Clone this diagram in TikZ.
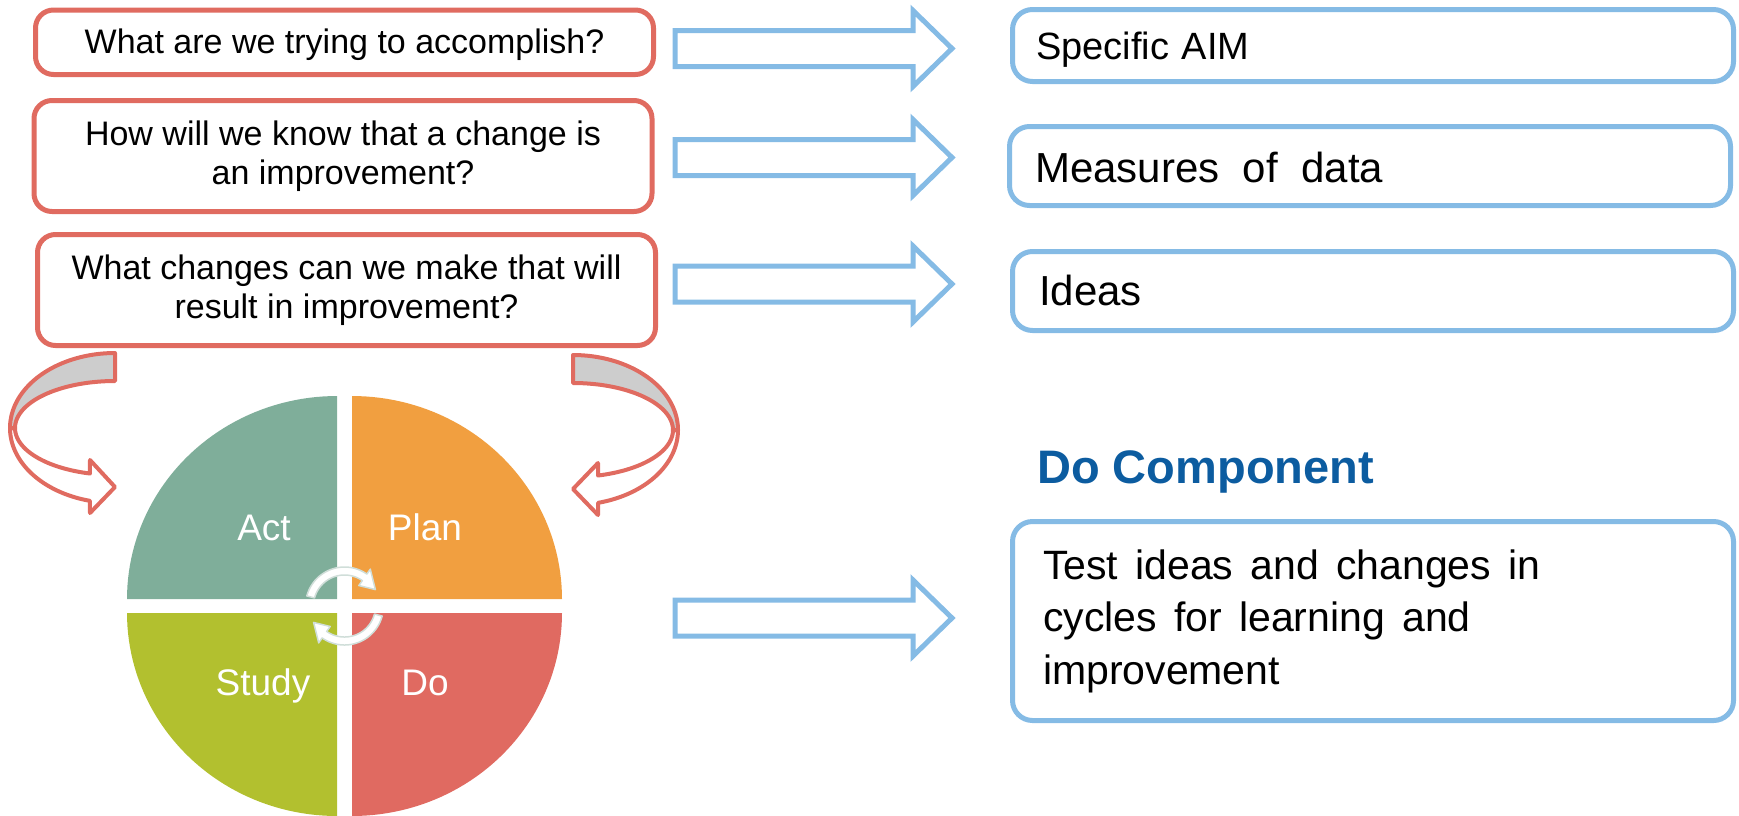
\documentclass[tikz,border=0pt]{standalone}
\usepackage{fontspec}
\setmainfont{Liberation Sans}
\definecolor{qred}{RGB}{224,107,96}
\definecolor{aimblue}{RGB}{133,187,229}
\definecolor{titleblue}{RGB}{12,92,160}
\definecolor{curlgray}{RGB}{205,205,205}
\definecolor{actc}{RGB}{127,174,154}
\definecolor{planc}{RGB}{241,159,64}
\definecolor{studyc}{RGB}{178,192,47}
\definecolor{doc}{RGB}{224,106,97}
\definecolor{spingray}{RGB}{208,222,217}
% block arrow pointing right, centred on the given height
\newcommand\wideArrow[1]{%
  \draw[wide arrow] (675,#1-18) -- (913,#1-18) -- (913,#1-38) -- (952,#1)
    -- (913,#1+38) -- (913,#1+18) -- (675,#1+18) -- cycle;}
\begin{document}
\begin{tikzpicture}[x=1pt, y=-1pt,
  qbox/.style={draw=qred, line width=5pt, rounded corners=18pt, fill=white,
    minimum width=618pt, inner sep=0pt, align=center,
    font=\fontsize{34}{39.5}\selectfont},
  abox/.style={draw=aimblue, line width=5pt, rounded corners=20pt, fill=white,
    minimum width=721pt, inner ysep=0pt, align=left},
  wide arrow/.style={draw=aimblue, line width=5pt, fill=white, line join=miter},
  curl/.style={draw=qred, line width=4pt, line join=round},
  spin/.style={draw=spingray, line width=1.5pt, fill=white, line join=round},
  pdca/.style={text=white, font=\fontsize{37}{40}\selectfont, anchor=base, inner sep=0pt},
  samples=48]
\useasboundingbox (0,0) rectangle (1739,815);

% curved arrows from the questions down to the cycle
\draw[curl, fill=white] plot[domain=180:103.8] ({115+105*cos(\x)},{428+75*sin(\x)})
  -- (90,513) -- (115,487) -- (90,460)
  -- plot[domain=104.5:180] ({115+100*cos(\x)},{428+47*sin(\x)}) -- cycle;
\draw[curl, fill=curlgray] plot[domain=270:180] ({115+105*cos(\x)},{428+75*sin(\x)})
  -- plot[domain=180:270] ({115+100*cos(\x)},{428+47*sin(\x)}) -- cycle;
\draw[curl, fill=white] plot[domain=0:76.2] ({573+105*cos(\x)},{430+75*sin(\x)})
  -- (598,515) -- (573,489) -- (598,463)
  -- plot[domain=75.5:0] ({573+100*cos(\x)},{430+47*sin(\x)}) -- cycle;
\draw[curl, fill=curlgray] plot[domain=270:360] ({573+105*cos(\x)},{430+75*sin(\x)})
  -- plot[domain=360:270] ({573+100*cos(\x)},{430+47*sin(\x)}) -- cycle;

% PDCA wheel
\fill[actc] (337,599) -- plot[domain=180:270] ({337+210*cos(\x)},{599+203*sin(\x)}) -- cycle;
\fill[planc] (352,599) -- plot[domain=270:360] ({352+210*cos(\x)},{599+203*sin(\x)}) -- cycle;
\fill[studyc] (337,613) -- plot[domain=90:180] ({337+210*cos(\x)},{613+203*sin(\x)}) -- cycle;
\fill[doc] (352,613) -- plot[domain=0:90] ({352+210*cos(\x)},{613+203*sin(\x)}) -- cycle;

% rotation arrows in the middle of the wheel
\draw[spin] plot[domain=195:305] ({344.5+39*cos(\x)},{606+39*sin(\x)})
  -- ({344.5+45*cos(305)},{606+45*sin(305)})
  -- ({344.5+35*cos(332)},{606+35*sin(332)})
  -- ({344.5+25*cos(305)},{606+25*sin(305)})
  -- plot[domain=305:195] ({344.5+31*cos(\x)},{606+31*sin(\x)}) -- cycle;
\draw[spin] plot[domain=15:125] ({344.5+39*cos(\x)},{606+39*sin(\x)})
  -- ({344.5+45*cos(125)},{606+45*sin(125)})
  -- ({344.5+35*cos(152)},{606+35*sin(152)})
  -- ({344.5+25*cos(125)},{606+25*sin(125)})
  -- plot[domain=125:15] ({344.5+31*cos(\x)},{606+31*sin(\x)}) -- cycle;

\node[pdca] (act) at (264,540) {Act};
\node[pdca] (plan) at (425,540) {Plan};
\node[pdca] (study) at (263,695) {Study};
\node[pdca] (do) at (425,695) {Do};

% questions
\node[qbox, minimum height=64.5pt, text height=25pt, text depth=3.5pt] (q1) at (344.5,42.25)
  {What are we trying to accomplish?};
\node[qbox, minimum height=111pt] (q2) at (343,156)
  {How will we know that a change is\\an improvement?};
\node[qbox, minimum height=111pt] (q3) at (346.5,290)
  {What changes can we make that will\\result in improvement?};

% answers
\node[abox, minimum height=72pt, inner xsep=23.5pt, text width=674pt,
  text height=29pt, text depth=2pt, font=\fontsize{38}{44}\selectfont] (aim) at (1373,45.5)
  {Specific AIM};
\node[abox, minimum height=79pt, inner xsep=25.5pt, text width=670pt,
  text height=34pt, text depth=2pt, font=\fontsize{42}{48}\selectfont] (measures) at (1370,166)
  {Measures\hspace{0.56em}of\hspace{0.56em}data};
\node[abox, minimum height=79pt, inner xsep=26.5pt, text width=668pt,
  text height=30pt, text depth=2pt, font=\fontsize{42}{48}\selectfont] (ideas) at (1373,291)
  {Ideas};
\node[font=\bfseries\fontsize{47}{50}\selectfont, text=titleblue, anchor=base west,
  inner sep=0pt] (dotitle) at (1037,483) {Do Component};
\node[abox, minimum height=199pt, inner xsep=30.5pt, text width=660pt,
  font=\fontsize{41}{52.5}\selectfont] (test) at (1373,621)
  {\spaceskip=0.42em\relax Test ideas and changes in\\cycles for learning and\\improvement};

% arrows from each question to its answer
\wideArrow{48.5}
\wideArrow{157.5}
\wideArrow{284}
\wideArrow{618}
\end{tikzpicture}
\end{document}
